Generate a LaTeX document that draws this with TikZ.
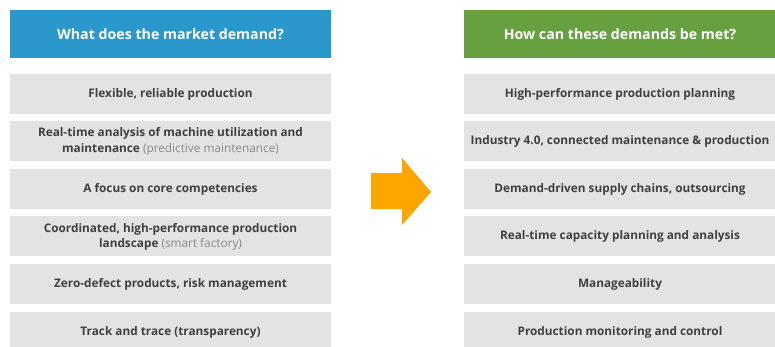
\documentclass[tikz,border=0pt]{standalone}
\usepackage{fontspec}
\setmainfont{Open Sans}
\definecolor{hdrblue}{HTML}{2A97CD}
\definecolor{hdrgreen}{HTML}{66A03F}
\definecolor{boxgray}{HTML}{E3E3E6}
\definecolor{txtgray}{HTML}{404040}
\definecolor{subgray}{HTML}{8A8A8A}
\definecolor{arroworange}{HTML}{FFA500}
\tikzset{
  hdrtext/.style={text=white, font=\fontsize{14.2}{17}\selectfont\bfseries},
  itemtext/.style={text=txtgray, font=\fontsize{11.8}{15.5}\selectfont\bfseries, align=center}
}
\newcommand{\subtxt}[1]{{\mdseries\color{subgray}#1}}
\begin{document}
\begin{tikzpicture}[x=1pt,y=-1pt]
\useasboundingbox (0,0) rectangle (775,346);
% headers
\path[fill=hdrblue] (10,10) rectangle (331,58);
\node[hdrtext] (hl) at (170.5,34) {What does the market demand?};
\path[fill=hdrgreen] (464,10) rectangle (776,58);
\node[hdrtext] (hr) at (620,34) {How can these demands be met?};
% left items
\foreach \i/\t in {0/{Flexible, reliable production},
  1/{Real-time analysis of machine utilization and\\maintenance \subtxt{(predictive maintenance)}},
  2/{A focus on core competencies},
  3/{Coordinated, high-performance production\\landscape \subtxt{(smart factory)}},
  4/{Zero-defect products, risk management},
  5/{Track and trace (transparency)}}{
  \path[fill=boxgray] (10,{73.5+47.6*\i}) rectangle (331,{113.5+47.6*\i});
  \node[itemtext] (l\i) at (170.5,{94+47.6*\i}) {\t};
}
% right items
\foreach \i/\t in {0/{High-performance production planning},
  1/{Industry 4.0, connected maintenance \& production},
  2/{Demand-driven supply chains, outsourcing},
  3/{Real-time capacity planning and analysis},
  4/{Manageability},
  5/{Production monitoring and control}}{
  \path[fill=boxgray] (464,{73.5+47.6*\i}) rectangle (776,{113.5+47.6*\i});
  \node[itemtext] (r\i) at (620,{94+47.6*\i}) {\t};
}
% arrow
\fill[arroworange] (371,173) -- (402,173) -- (402,158) -- (431,192) -- (402,225) -- (402,209) -- (371,209) -- cycle;
\end{tikzpicture}
\end{document}
